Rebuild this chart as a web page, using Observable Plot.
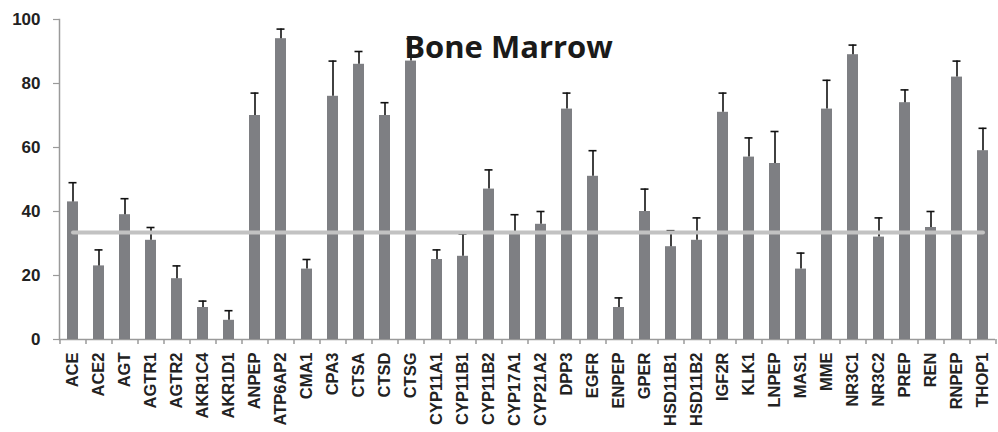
<!DOCTYPE html>
<html><head><meta charset="utf-8">
<script src="https://cdn.jsdelivr.net/npm/d3@7"></script>
<script src="https://cdn.jsdelivr.net/npm/@observablehq/plot@0.6"></script>
<style>body{margin:0;background:#fff}</style>
</head><body><div id="chart"></div>
<script>
const title = "Bone Marrow";
const genes = ["ACE","ACE2","AGT","AGTR1","AGTR2","AKR1C4","AKR1D1","ANPEP","ATP6AP2","CMA1","CPA3","CTSA","CTSD","CTSG","CYP11A1","CYP11B1","CYP11B2","CYP17A1","CYP21A2","DPP3","EGFR","ENPEP","GPER","HSD11B1","HSD11B2","IGF2R","KLK1","LNPEP","MAS1","MME","NR3C1","NR3C2","PREP","REN","RNPEP","THOP1"];
const values = [43,23,39,31,19,10,6,70,94,22,76,86,70,87,25,26,47,33,36,72,51,10,40,29,31,71,57,55,22,72,89,32,74,35,82,59];
const errorTops = [49,28,44,35,23,12,9,77,97,25,87,90,74,94,28,33,53,39,40,77,59,13,47,34,38,77,63,65,27,81,92,38,78,40,87,66];
const threshold = 33.4;
const yTicks = [0,20,40,60,80,100];

const W = 998, H = 432, ML = 59, MR = 3, MT = 19, MB = 93;
const step = (W - ML - MR) / genes.length;
const data = genes.map((g, i) => ({gene: g, value: values[i], top: errorTops[i]}));
const lineData = [genes[0], genes[genes.length - 1]].map(g => ({gene: g, y: threshold}));
const axisFont = "'Liberation Sans', Arial, sans-serif";

const plot = Plot.plot({
  width: W, height: H,
  marginLeft: ML, marginRight: MR, marginTop: MT, marginBottom: MB,
  style: {fontFamily: axisFont, fontWeight: "bold", fontSize: "16px", color: "#222", background: "#fff", overflow: "visible"},
  x: {domain: genes, paddingInner: 0.58, paddingOuter: 0.29, label: null},
  y: {domain: [0, 100], label: null},
  marks: [
    Plot.frame({anchor: "left", stroke: "#9a9a9a", strokeWidth: 1.5}),
    Plot.ruleY([0], {stroke: "#9a9a9a", strokeWidth: 1.5}),
    Plot.axisY({ticks: yTicks, tickSize: 6, tickPadding: 13, stroke: "#9a9a9a", strokeWidth: 1.2, fontSize: 17, fontWeight: "bold", fontFamily: axisFont, fill: "#222", label: null}),
    Plot.axisX({tickSize: 0, tickPadding: 13, tickRotate: -90, fontSize: 16.5, fontWeight: "bold", fontFamily: axisFont, fill: "#222", label: null}),
    Plot.axisX(genes, {tickSize: 5, tickFormat: () => "", dx: -step / 2, stroke: "#9a9a9a", strokeWidth: 1.5, label: null}),
    Plot.axisX([genes[genes.length - 1]], {tickSize: 5, tickFormat: () => "", dx: step / 2, stroke: "#9a9a9a", strokeWidth: 1.5, label: null}),
    Plot.barY(data, {x: "gene", y: "value", fill: "#7e7f83"}),
    Plot.ruleX(data, {x: "gene", y1: "value", y2: "top", stroke: "#111", strokeWidth: 1.6}),
    Plot.tickY(data, {x: "gene", y: "top", stroke: "#111", strokeWidth: 1.6, insetLeft: 1.5, insetRight: 1.5}),
    Plot.line(lineData, {x: "gene", y: "y", stroke: "#c2c2c2", strokeWidth: 4}),
    Plot.text([title], {frameAnchor: "top", dx: -19, dy: 16, fontSize: 31, fontWeight: "bold", fontFamily: "'Open Sans', sans-serif", fill: "#1a1a1a"})
  ]
});
document.getElementById("chart").append(plot);
</script>
</body></html>
